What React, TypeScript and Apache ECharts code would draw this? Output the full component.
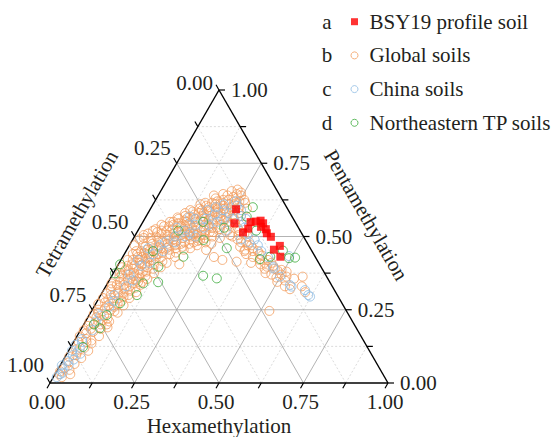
import React, { useEffect, useRef } from 'react';
import * as echarts from 'echarts';

const FONT = '"Liberation Serif", "Times New Roman", Times, serif';
const TEXT_COLOR = '#231f20';

// ternary scale
const TICK_VALUES = [0, 0.125, 0.25, 0.375, 0.5, 0.625, 0.75, 0.875, 1];
const LABEL_VALUES = [0, 0.25, 0.5, 0.75, 1];
const TICK_LABELS = ['0.00', '0.25', '0.50', '0.75', '1.00'];
const MAJOR_GRID = [0.25, 0.5, 0.75];
const MINOR_GRID = [0.125, 0.375, 0.625, 0.875];

const AXIS_TITLES = ['Hexamethylation', 'Pentamethylation', 'Tetramethylation'];
const SERIES_NAMES = ['BSY19 profile soil', 'Global soils', 'China soils', 'Northeastern TP soils'];
const LEGEND_LETTERS = ['a', 'b', 'c', 'd'];

// data points: [hexamethylation, pentamethylation]  (tetramethylation = 1 - hexa - penta)
const bsy19 = [
  [0.254, 0.593], [0.273, 0.545], [0.319, 0.549], [0.333, 0.551], [0.346, 0.554],
  [0.358, 0.545], [0.323, 0.527], [0.314, 0.514], [0.358, 0.533], [0.376, 0.525],
  [0.386, 0.511], [0.404, 0.499], [0.435, 0.455], [0.446, 0.468], [0.466, 0.431],
];

const globalSoils = [
  [0.012, 0.03], [0.025, 0.02], [0.018, 0.05], [0.035, 0.045], [0.02, 0.07], [0.04, 0.065],
  [0.012, 0.09], [0.03, 0.095], [0.05, 0.085], [0.02, 0.115], [0.042, 0.12], [0.015, 0.14],
  [0.058, 0.11], [0.032, 0.15], [0.05, 0.145], [0.022, 0.17], [0.04, 0.175], [0.065, 0.16],
  [0.015, 0.195], [0.03, 0.2], [0.05, 0.2], [0.075, 0.19], [0.025, 0.225], [0.045, 0.23],
  [0.06, 0.22], [0.018, 0.25], [0.035, 0.255], [0.055, 0.25], [0.08, 0.24], [0.025, 0.275],
  [0.045, 0.28], [0.065, 0.27], [0.03, 0.3], [0.05, 0.305], [0.07, 0.295], [0.09, 0.29],
  [0.02, 0.32], [0.04, 0.325], [0.06, 0.32], [0.08, 0.315], [0.035, 0.345], [0.055, 0.35],
  [0.075, 0.34], [0.1, 0.335], [0.025, 0.36], [0.045, 0.37], [0.065, 0.365], [0.085, 0.36],
  [0.03, 0.385], [0.05, 0.39], [0.07, 0.385], [0.095, 0.38], [0.12, 0.375], [0.04, 0.405],
  [0.06, 0.41], [0.08, 0.4], [0.105, 0.405], [0.02, 0.42], [0.045, 0.43], [0.07, 0.425],
  [0.09, 0.42], [0.115, 0.43], [0.14, 0.41],
  [0.03, 0.45], [0.055, 0.445], [0.08, 0.45], [0.1, 0.44], [0.125, 0.455], [0.15, 0.445],
  [0.04, 0.47], [0.065, 0.475], [0.09, 0.465], [0.11, 0.475], [0.135, 0.47], [0.16, 0.465],
  [0.185, 0.46], [0.02, 0.49], [0.05, 0.495], [0.075, 0.49], [0.1, 0.5], [0.12, 0.49],
  [0.145, 0.495], [0.17, 0.49], [0.195, 0.485], [0.22, 0.48], [0.035, 0.51], [0.06, 0.515],
  [0.085, 0.52], [0.11, 0.51], [0.13, 0.52], [0.155, 0.515], [0.18, 0.51], [0.205, 0.505],
  [0.23, 0.5], [0.255, 0.495],
  [0.07, 0.535], [0.095, 0.54], [0.12, 0.535], [0.14, 0.545], [0.165, 0.535], [0.19, 0.54],
  [0.215, 0.53], [0.24, 0.525], [0.265, 0.52], [0.1, 0.56], [0.125, 0.565], [0.15, 0.56],
  [0.175, 0.565], [0.2, 0.555], [0.225, 0.56], [0.25, 0.55], [0.275, 0.545], [0.3, 0.54],
  [0.13, 0.585], [0.155, 0.59], [0.18, 0.585], [0.205, 0.58], [0.23, 0.585], [0.255, 0.575],
  [0.28, 0.57], [0.16, 0.605], [0.185, 0.61], [0.21, 0.605], [0.235, 0.6], [0.26, 0.6],
  [0.175, 0.63], [0.2, 0.625], [0.225, 0.635], [0.25, 0.62], [0.27, 0.615], [0.21, 0.655],
  [0.24, 0.65], [0.19, 0.645],
  [0.3, 0.52], [0.32, 0.51], [0.29, 0.5], [0.31, 0.49], [0.335, 0.5], [0.34, 0.48],
  [0.36, 0.47], [0.33, 0.465], [0.35, 0.455], [0.375, 0.45], [0.36, 0.44], [0.385, 0.43],
  [0.4, 0.44], [0.41, 0.42], [0.39, 0.41], [0.42, 0.405], [0.435, 0.42], [0.44, 0.39],
  [0.46, 0.4], [0.45, 0.375], [0.47, 0.37], [0.48, 0.385], [0.49, 0.36], [0.5, 0.345],
  [0.52, 0.35], [0.53, 0.33], [0.55, 0.32], [0.58, 0.33], [0.6, 0.31],
  [0.18, 0.405], [0.085, 0.43], [0.35, 0.45], [0.345, 0.414], [0.235, 0.454], [0.2, 0.488],
  [0.443, 0.397], [0.492, 0.386], [0.518, 0.363], [0.544, 0.356], [0.566, 0.363], [0.526, 0.246],
  [0.27, 0.43], [0.3, 0.42],
  [0.01, 0.04], [0.045, 0.03], [0.028, 0.105], [0.055, 0.135], [0.01, 0.18], [0.058, 0.185],
  [0.07, 0.21], [0.038, 0.21], [0.012, 0.235], [0.068, 0.245], [0.085, 0.265], [0.012, 0.29],
  [0.058, 0.29], [0.1, 0.31], [0.012, 0.34], [0.088, 0.345], [0.11, 0.355], [0.015, 0.395],
  [0.085, 0.38], [0.13, 0.395], [0.155, 0.43], [0.2, 0.47], [0.24, 0.475], [0.06, 0.455],
  [0.115, 0.46], [0.165, 0.5], [0.015, 0.47], [0.28, 0.505], [0.09, 0.55], [0.11, 0.58],
  [0.14, 0.61], [0.165, 0.58], [0.195, 0.6], [0.22, 0.57], [0.245, 0.64], [0.285, 0.595],
  [0.26, 0.54], [0.215, 0.515], [0.19, 0.52], [0.145, 0.54],
  [0.008, 0.16], [0.028, 0.185], [0.048, 0.215], [0.022, 0.24], [0.04, 0.265], [0.008, 0.27],
  [0.03, 0.285], [0.072, 0.28], [0.045, 0.31], [0.065, 0.305], [0.015, 0.305], [0.03, 0.335],
  [0.05, 0.335], [0.07, 0.33], [0.09, 0.325], [0.04, 0.355], [0.06, 0.355], [0.08, 0.35],
  [0.02, 0.375], [0.04, 0.385], [0.06, 0.375], [0.08, 0.37], [0.1, 0.365], [0.03, 0.4],
  [0.05, 0.4], [0.07, 0.405], [0.09, 0.395], [0.11, 0.39], [0.035, 0.42], [0.055, 0.42],
  [0.08, 0.415], [0.1, 0.425], [0.125, 0.415], [0.025, 0.44], [0.045, 0.45], [0.07, 0.44],
  [0.09, 0.455], [0.11, 0.445], [0.135, 0.44],
  [0.05, 0.465], [0.075, 0.46], [0.1, 0.46], [0.125, 0.48], [0.15, 0.475], [0.175, 0.475],
  [0.03, 0.495], [0.065, 0.5], [0.09, 0.485], [0.135, 0.505], [0.16, 0.505], [0.185, 0.495],
  [0.21, 0.495], [0.05, 0.525], [0.075, 0.51], [0.1, 0.525], [0.12, 0.515], [0.145, 0.525],
  [0.17, 0.52], [0.2, 0.52], [0.225, 0.515], [0.08, 0.55], [0.105, 0.545], [0.13, 0.55],
  [0.155, 0.55], [0.18, 0.55], [0.21, 0.545], [0.235, 0.54], [0.115, 0.57], [0.14, 0.575],
  [0.165, 0.57], [0.19, 0.57], [0.215, 0.58], [0.24, 0.565], [0.265, 0.56], [0.145, 0.595],
  [0.17, 0.6], [0.2, 0.595], [0.225, 0.61], [0.25, 0.59], [0.185, 0.62], [0.215, 0.625],
  [0.235, 0.62],
  [0.29, 0.53], [0.305, 0.505], [0.325, 0.48], [0.35, 0.47], [0.37, 0.46], [0.39, 0.45],
  [0.41, 0.435], [0.43, 0.41], [0.45, 0.41], [0.47, 0.39], [0.5, 0.37], [0.51, 0.38],
  [0.018, 0.33], [0.028, 0.37], [0.038, 0.44], [0.058, 0.43], [0.078, 0.43], [0.095, 0.44],
  [0.118, 0.465], [0.142, 0.46], [0.168, 0.455], [0.058, 0.485], [0.083, 0.48], [0.108, 0.49],
  [0.132, 0.485], [0.158, 0.48], [0.185, 0.48], [0.025, 0.505], [0.045, 0.52], [0.07, 0.52],
  [0.095, 0.505], [0.118, 0.5], [0.142, 0.51], [0.17, 0.51], [0.195, 0.505], [0.06, 0.54],
  [0.085, 0.535], [0.11, 0.545], [0.132, 0.535], [0.155, 0.53], [0.18, 0.53], [0.205, 0.535],
  [0.228, 0.53], [0.095, 0.565], [0.12, 0.555], [0.142, 0.565], [0.168, 0.555], [0.19, 0.56],
  [0.212, 0.565], [0.238, 0.555], [0.12, 0.59], [0.15, 0.58], [0.175, 0.59], [0.195, 0.585],
  [0.218, 0.595], [0.242, 0.59], [0.268, 0.58], [0.152, 0.615], [0.172, 0.615], [0.198, 0.612],
  [0.24, 0.61], [0.262, 0.625], [0.165, 0.64], [0.23, 0.645], [0.205, 0.64], [0.225, 0.66],
  [0.038, 0.14], [0.012, 0.21], [0.068, 0.2], [0.06, 0.26], [0.082, 0.3], [0.1, 0.345],
];

const chinaSoils = [
  [0.01, 0.02], [0.02, 0.035], [0.012, 0.05], [0.025, 0.06], [0.015, 0.075], [0.03, 0.08],
  [0.02, 0.095], [0.01, 0.11], [0.028, 0.12], [0.02, 0.15], [0.035, 0.18], [0.03, 0.21],
  [0.045, 0.26], [0.04, 0.3], [0.06, 0.33], [0.05, 0.37], [0.07, 0.4], [0.085, 0.44],
  [0.06, 0.46], [0.1, 0.48], [0.12, 0.5], [0.14, 0.52], [0.11, 0.53], [0.16, 0.54],
  [0.13, 0.568], [0.18, 0.56], [0.2, 0.575], [0.17, 0.59], [0.22, 0.59], [0.24, 0.58],
  [0.21, 0.61], [0.25, 0.605], [0.27, 0.59], [0.23, 0.56], [0.26, 0.56], [0.29, 0.55],
  [0.31, 0.53], [0.33, 0.51], [0.36, 0.49], [0.38, 0.47], [0.4, 0.45], [0.43, 0.43],
  [0.462, 0.397], [0.491, 0.433], [0.465, 0.391], [0.499, 0.363], [0.55, 0.329], [0.543, 0.334],
  [0.596, 0.317], [0.614, 0.3], [0.622, 0.295], [0.15, 0.5], [0.09, 0.47], [0.19, 0.53],
  [0.035, 0.23], [0.05, 0.28], [0.07, 0.35], [0.09, 0.41], [0.11, 0.45], [0.13, 0.48],
  [0.16, 0.51], [0.18, 0.5], [0.2, 0.54], [0.22, 0.55], [0.15, 0.56], [0.19, 0.6],
  [0.24, 0.62], [0.28, 0.57], [0.3, 0.56], [0.26, 0.52], [0.32, 0.49], [0.35, 0.48],
  [0.025, 0.14], [0.04, 0.1], [0.015, 0.03], [0.005, 0.06], [0.01, 0.13], [0.05, 0.42],
];

const neTpSoils = [
  [0.036, 0.123], [0.054, 0.187], [0.052, 0.232], [0.071, 0.272], [0.107, 0.3], [0.106, 0.34],
  [0.148, 0.344], [0.005, 0.374], [0.122, 0.397], [0.005, 0.405], [0.179, 0.431], [0.27, 0.366],
  [0.315, 0.357], [0.21, 0.488], [0.293, 0.46], [0.41, 0.423], [0.436, 0.431], [0.463, 0.452],
  [0.494, 0.426], [0.511, 0.428], [0.178, 0.55], [0.298, 0.568], [0.12, 0.52], [0.25, 0.53],
  [0.35, 0.52], [0.3, 0.6], [0.08, 0.45], [0.03, 0.2],
];

const COLORS = ['#ff0000', '#F39C5C', '#8DBBE3', '#3AAA3A'];

const toCart = (d: number[]) => [d[0] + d[1] / 2, d[1]];

function buildSegments() {
  const segs: number[][] = [];
  const push = (a: number[], b: number[], kind: number) => {
    const A = toCart(a);
    const B = toCart(b);
    segs.push([A[0], A[1], B[0], B[1], kind]);
  };
  const lines: [number, number][] = [
    ...MINOR_GRID.map((v) => [v, 2] as [number, number]),
    ...MAJOR_GRID.map((v) => [v, 1] as [number, number]),
  ];
  lines.forEach(([v, k]) => {
    push([0, v], [1 - v, v], k); // constant penta
    push([v, 0], [v, 1 - v], k); // constant hexa
    push([1 - v, 0], [0, 1 - v], k); // constant tetra
  });
  push([0, 0], [1, 0], 0);
  push([1, 0], [0, 1], 0);
  push([0, 1], [0, 0], 0);
  return segs;
}

function edgePoint(axis: number, v: number) {
  if (axis === 0) return toCart([v, 0]);
  if (axis === 1) return toCart([1 - v, v]);
  return toCart([0, 1 - v]);
}

const TICK_DIR = [
  [-0.5, 0.866],
  [1, 0],
  [-0.5, -0.866],
];

export default function App() {
  const ref = useRef<HTMLDivElement>(null);

  useEffect(() => {
    if (!ref.current) return;
    const chart = echarts.init(ref.current, undefined, { renderer: 'svg' });
    const font = `21px ${FONT}`;

    const tickData: number[][] = [];
    const labelData: number[][] = [];
    [0, 1, 2].forEach((axis) => {
      TICK_VALUES.forEach((v) => tickData.push([axis, v]));
      LABEL_VALUES.forEach((v, i) => labelData.push([axis, v, i]));
    });

    const hollow = (name: string, data: number[][], color: string, z: number) => ({
      type: 'scatter',
      name,
      data: data.map(toCart),
      symbol: 'circle',
      symbolSize: 9,
      itemStyle: { color: 'rgba(0,0,0,0)', borderColor: color, borderWidth: 1 },
      z,
      silent: true,
    });

    const option: any = {
      animation: false,
      backgroundColor: '#ffffff',
      grid: { left: 50, top: 90, width: 338, height: 293 },
      xAxis: { type: 'value', min: 0, max: 1, show: false },
      yAxis: { type: 'value', min: 0, max: 1, show: false },
      legend: {
        orient: 'vertical',
        left: 350.5,
        top: 11.2,
        padding: 0,
        itemWidth: 20,
        itemHeight: 7,
        itemGap: 12.7,
        selectedMode: false,
        textStyle: { fontFamily: FONT, fontSize: 21, color: TEXT_COLOR, lineHeight: 21 },
        data: [
          { name: SERIES_NAMES[0], icon: 'path://M0 0H10V10H0Z', itemStyle: { color: COLORS[0], borderWidth: 0 } },
          { name: SERIES_NAMES[1], icon: 'circle', itemStyle: { color: 'rgba(0,0,0,0)', borderColor: COLORS[1], borderWidth: 1 } },
          { name: SERIES_NAMES[2], icon: 'circle', itemStyle: { color: 'rgba(0,0,0,0)', borderColor: COLORS[2], borderWidth: 1 } },
          { name: SERIES_NAMES[3], icon: 'circle', itemStyle: { color: 'rgba(0,0,0,0)', borderColor: COLORS[3], borderWidth: 1 } },
        ],
      },
      graphic: [
        {
          type: 'text', x: 219, y: 426, z: 10,
          style: { text: AXIS_TITLES[0], font, fill: TEXT_COLOR, align: 'center', verticalAlign: 'middle' },
        },
        {
          type: 'text', x: 366, y: 215, rotation: -Math.PI / 3, z: 10,
          style: { text: AXIS_TITLES[1], font, fill: TEXT_COLOR, align: 'center', verticalAlign: 'middle' },
        },
        {
          type: 'text', x: 77, y: 214, rotation: Math.PI / 3, z: 10,
          style: { text: AXIS_TITLES[2], font, fill: TEXT_COLOR, align: 'center', verticalAlign: 'middle' },
        },
        ...LEGEND_LETTERS.map((l, i) => ({
          type: 'text', x: 327, y: 21.7 + i * 33.7, z: 10,
          style: { text: l, font, fill: TEXT_COLOR, align: 'center', verticalAlign: 'middle' },
        })),
      ],
      series: [
        {
          type: 'custom',
          name: 'grid',
          silent: true,
          clip: false,
          z: 1,
          data: buildSegments(),
          renderItem: (params: any, api: any) => {
            const a = api.coord([api.value(0), api.value(1)]);
            const b = api.coord([api.value(2), api.value(3)]);
            const kind = api.value(4);
            const style =
              kind === 0
                ? { stroke: '#000000', lineWidth: 1.4 }
                : kind === 1
                ? { stroke: '#a0a0a0', lineWidth: 0.8 }
                : { stroke: '#cccccc', lineWidth: 0.7, lineDash: [2, 2] };
            return { type: 'line', shape: { x1: a[0], y1: a[1], x2: b[0], y2: b[1] }, style };
          },
        },
        {
          type: 'custom',
          name: 'ticks',
          silent: true,
          clip: false,
          z: 6,
          data: tickData,
          renderItem: (params: any, api: any) => {
            const axis = api.value(0);
            const v = api.value(1);
            const pt = api.coord(edgePoint(axis, v));
            const d = TICK_DIR[axis];
            const len = 6;
            return {
              type: 'line',
              shape: { x1: pt[0], y1: pt[1], x2: pt[0] + d[0] * len, y2: pt[1] + d[1] * len },
              style: { stroke: '#000000', lineWidth: 1.2 },
            };
          },
        },
        {
          type: 'custom',
          name: 'tickLabels',
          silent: true,
          clip: false,
          z: 6,
          data: labelData,
          renderItem: (params: any, api: any) => {
            const axis = api.value(0);
            const v = api.value(1);
            const idx = api.value(2);
            const pt = api.coord(edgePoint(axis, v));
            let x = pt[0];
            let y = pt[1];
            let align = 'center';
            if (axis === 0) {
              x -= 3;
              y += 19;
            } else if (axis === 1) {
              x += 12;
              align = 'left';
            } else {
              x -= 6;
              y -= v === 0 ? 7 : v === 1 ? 18 : 15;
              align = 'right';
            }
            return {
              type: 'text',
              style: {
                text: TICK_LABELS[idx], x, y, font, fill: TEXT_COLOR,
                align, verticalAlign: 'middle',
              },
            };
          },
        },
        hollow(SERIES_NAMES[1], globalSoils, COLORS[1], 3),
        hollow(SERIES_NAMES[2], chinaSoils, COLORS[2], 4),
        hollow(SERIES_NAMES[3], neTpSoils, COLORS[3], 4),
        {
          type: 'scatter',
          name: SERIES_NAMES[0],
          data: bsy19.map(toCart),
          symbol: 'rect',
          symbolSize: 8,
          itemStyle: { color: COLORS[0] },
          z: 5,
          silent: true,
        },
      ],
    };

    chart.setOption(option);
    return () => chart.dispose();
  }, []);

  return (
    <div
      ref={ref}
      style={{ position: 'absolute', left: 0, top: 0, width: 554, height: 437 }}
    />
  );
}
